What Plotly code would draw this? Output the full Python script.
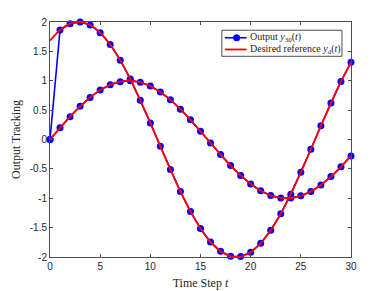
import plotly.graph_objects as go

t = list(range(31))
ref_1 = [0.000, 0.199, 0.389, 0.565, 0.717, 0.841, 0.932, 0.985, 1.000, 0.974,
         0.909, 0.808, 0.675, 0.516, 0.335, 0.141, -0.058, -0.256, -0.443, -0.612,
         -0.757, -0.872, -0.952, -0.994, -0.996, -0.959, -0.883, -0.773, -0.631, -0.465,
         -0.279]
ref_2 = [1.683, 1.864, 1.971, 1.999, 1.948, 1.819, 1.617, 1.351, 1.031, 0.670,
         0.282, -0.117, -0.511, -0.885, -1.224, -1.514, -1.743, -1.903, -1.987, -1.992,
         -1.918, -1.766, -1.545, -1.263, -0.930, -0.559, -0.166, 0.233, 0.623, 0.988,
         1.314]
out_1 = [0.000, 0.199, 0.389, 0.565, 0.717, 0.841, 0.932, 0.985, 1.000, 0.974,
         0.909, 0.808, 0.675, 0.516, 0.335, 0.141, -0.058, -0.256, -0.443, -0.612,
         -0.757, -0.872, -0.952, -0.994, -0.996, -0.959, -0.883, -0.773, -0.631, -0.465,
         -0.279]
out_2 = [0.000, 1.864, 1.971, 1.999, 1.948, 1.819, 1.617, 1.351, 1.031, 0.670,
         0.282, -0.117, -0.511, -0.885, -1.224, -1.514, -1.743, -1.903, -1.987, -1.992,
         -1.918, -1.766, -1.545, -1.263, -0.930, -0.559, -0.166, 0.233, 0.623, 0.988,
         1.314]

x_ticks = [0, 5, 10, 15, 20, 25, 30]
y_ticks = [-2, -1.5, -1, -0.5, 0, 0.5, 1, 1.5, 2]
y_tick_text = ["-2", "-1.5", "-1", "-0.5", "0", "0.5", "1", "1.5", "2"]
legend_labels = ["Output <i>y</i><sub>30</sub>(<i>t</i>)",
                 "Desired reference <i>y</i><sub>d</sub>(<i>t</i>)"]

SERIF = "Liberation Serif, Times New Roman, serif"
SANS = "Liberation Sans, Arial, sans-serif"
BLUE = "rgb(0,0,255)"
RED = "rgb(255,0,0)"
AXC = "#4d4d4d"

fig = go.Figure()
for ys in [out_1, out_2]:
    fig.add_trace(go.Scatter(
        x=t, y=ys, mode="lines+markers", cliponaxis=False,
        line=dict(color=BLUE, width=1.6),
        marker=dict(color=BLUE, size=7, symbol="circle"),
        showlegend=False))
for ys in [ref_1, ref_2]:
    fig.add_trace(go.Scatter(
        x=t, y=ys, mode="lines", cliponaxis=False,
        line=dict(color=RED, width=1.8, shape="spline", smoothing=0.6),
        showlegend=False))

axis_common = dict(showline=True, linecolor=AXC, linewidth=1, mirror="ticks",
                   ticks="inside", ticklen=3, tickcolor=AXC, showgrid=False,
                   zeroline=False, automargin=False,
                   tickfont=dict(family=SANS, size=10, color="#262626"))

fig.update_xaxes(range=[0, 30], tickvals=x_ticks,
                 title=dict(text="Time Step <i>t</i>", font=dict(family=SERIF, size=12, color="#262626"),
                            standoff=7),
                 **axis_common)
fig.update_yaxes(range=[-2, 2], tickvals=y_ticks, ticktext=y_tick_text,
                 title=dict(text="Output Tracking", font=dict(family=SERIF, size=12, color="#262626"),
                            standoff=6),
                 **axis_common)

# custom legend (box, samples, labels) in paper coordinates
shapes = [
    dict(type="rect", xref="paper", yref="paper", x0=0.571, x1=0.970, y0=0.854, y1=0.965,
         line=dict(color=AXC, width=1), fillcolor="white", layer="above"),
    dict(type="line", xref="paper", yref="paper", x0=0.581, x1=0.653, y0=0.933, y1=0.933,
         line=dict(color=BLUE, width=1.6), layer="above"),
    dict(type="circle", xref="paper", yref="paper", xsizemode="pixel", ysizemode="pixel",
         xanchor=0.620, yanchor=0.933, x0=-3.5, x1=3.5, y0=-3.5, y1=3.5,
         line=dict(color=BLUE, width=0), fillcolor=BLUE, layer="above"),
    dict(type="line", xref="paper", yref="paper", x0=0.581, x1=0.653, y0=0.883, y1=0.883,
         line=dict(color=RED, width=1.8), layer="above"),
]
annotations = [
    dict(xref="paper", yref="paper", x=0.659, y=yy, text=lab, showarrow=False,
         xanchor="left", yanchor="middle", font=dict(family=SERIF, size=10, color="#262626"))
    for yy, lab in zip([0.933, 0.883], legend_labels)
]

fig.update_layout(
    width=380, height=283,
    margin=dict(l=42, r=37, t=14, b=34),
    plot_bgcolor="white", paper_bgcolor="white",
    shapes=shapes, annotations=annotations, showlegend=False,
)

fig.write_html("out.html")
